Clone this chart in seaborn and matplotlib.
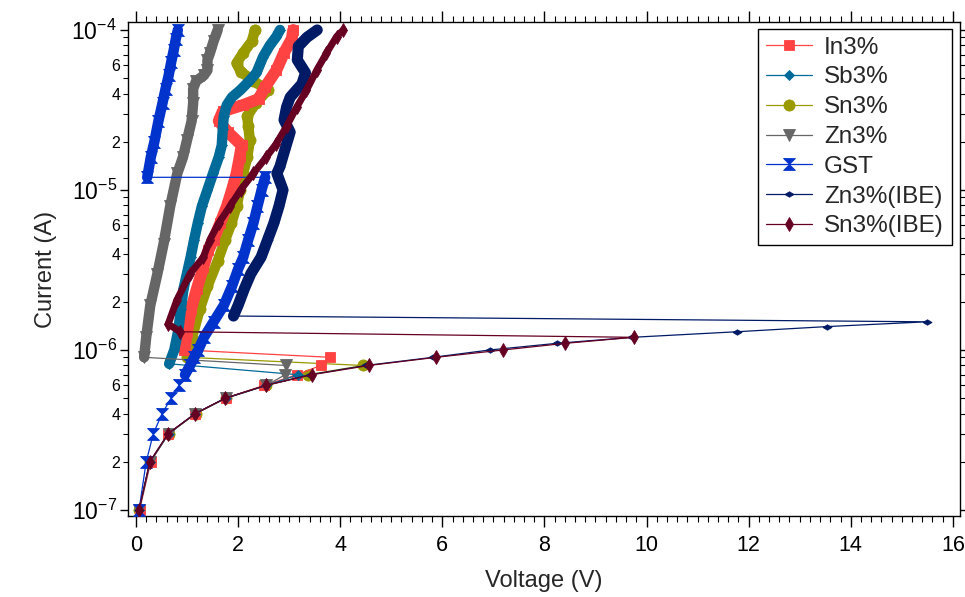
import numpy as np
import pandas as pd
import matplotlib
matplotlib.use("Agg")
import matplotlib.pyplot as plt
from matplotlib.ticker import FuncFormatter, LogLocator, MultipleLocator
import seaborn as sns

# ---------------------------------------------------------------- data
series_names = ["In3%", "Sb3%", "Sn3%", "Zn3%", "GST", "Zn3%(IBE)", "Sn3%(IBE)"]

# In3%
in_v_off = [0.07, 0.29, 0.63, 1.16, 1.76, 2.50, 3.15, 3.62, 3.80]
in_i_off = [1e-7, 2e-7, 3e-7, 4e-7, 5e-7, 6e-7, 7e-7, 8e-7, 9e-7]
in_v_on = [0.95, 1.00, 1.08, 1.19, 1.32, 1.42, 1.52, 1.65, 1.78, 1.88, 1.97, 2.03,
           2.07, 1.80, 1.62, 1.70, 2.10, 2.40, 2.53, 2.75, 2.90, 3.05, 3.08]
in_i_on = [1.0e-6, 1.3e-6, 1.8e-6, 2.4e-6, 3.3e-6, 4.2e-6, 4.9e-6, 6.2e-6, 7.9e-6,
           1.0e-5, 1.27e-5, 1.6e-5, 1.9e-5, 2.3e-5, 2.7e-5, 3.1e-5, 3.4e-5, 3.7e-5,
           4.4e-5, 5.6e-5, 7.2e-5, 8.8e-5, 1.0e-4]

# Sb3%
sb_v_off = [0.06, 0.28, 0.64, 1.16, 1.76, 2.55, 3.18]
sb_i_off = [1e-7, 2e-7, 3e-7, 4e-7, 5e-7, 6e-7, 7e-7]
sb_v_on = [0.65, 0.75, 0.83, 0.88, 0.93, 1.07, 1.14, 1.21, 1.29, 1.40, 1.51, 1.62,
           1.68, 1.70, 1.72, 1.78, 1.88, 2.04, 2.22, 2.36, 2.49, 2.62, 2.75, 2.82]
sb_i_on = [8.2e-7, 1.0e-6, 1.33e-6, 1.8e-6, 2.4e-6, 3.8e-6, 4.9e-6, 6.2e-6, 7.9e-6,
           1.0e-5, 1.27e-5, 1.6e-5, 1.9e-5, 2.4e-5, 2.9e-5, 3.4e-5, 3.8e-5, 4.2e-5,
           4.8e-5, 5.4e-5, 6.8e-5, 8.0e-5, 9.1e-5, 1.0e-4]

# Sn3%
sn_v_off = [0.06, 0.28, 0.64, 1.17, 1.76, 2.55, 3.37, 4.45]
sn_i_off = [1e-7, 2e-7, 3e-7, 4e-7, 5e-7, 6e-7, 7e-7, 8e-7]
sn_v_on = [1.00, 1.10, 1.25, 1.40, 1.60, 1.75, 1.87, 1.97, 2.04, 2.10, 2.18, 2.23,
           2.20, 2.18, 2.35, 2.58, 2.30, 2.05, 1.97, 2.10, 2.27, 2.33]
sn_i_on = [9e-7, 1.2e-6, 1.8e-6, 2.5e-6, 3.6e-6, 4.9e-6, 6.2e-6, 7.9e-6, 1.0e-5,
           1.27e-5, 1.6e-5, 2.05e-5, 2.5e-5, 2.9e-5, 3.5e-5, 4.2e-5, 4.8e-5, 5.5e-5,
           6.2e-5, 7.2e-5, 8.5e-5, 1.0e-4]

# Zn3%
zn_v_off = [0.06, 0.28, 0.64, 1.16, 1.76, 2.55, 2.92, 2.94]
zn_i_off = [1e-7, 2e-7, 3e-7, 4e-7, 5e-7, 6e-7, 7e-7, 8e-7]
zn_v_on = [0.16, 0.20, 0.28, 0.42, 0.54, 0.67, 0.81, 0.92, 1.00, 1.09, 1.12, 1.12,
           1.18, 1.33, 1.40, 1.40, 1.45, 1.52, 1.60]
zn_i_on = [9e-7, 1.2e-6, 1.9e-6, 3.0e-6, 4.6e-6, 7.9e-6, 1.27e-5, 1.6e-5, 2.05e-5,
           2.7e-5, 3.5e-5, 4.3e-5, 4.8e-5, 5.2e-5, 5.6e-5, 6.5e-5, 7.2e-5, 8.5e-5, 1.0e-4]

# GST
gst_v_off = [0.06, 0.20, 0.34, 0.51, 0.69, 0.84, 0.96, 1.06, 1.14, 1.22, 1.33, 1.52,
             1.72, 1.88, 2.00, 2.10, 2.20, 2.30, 2.38, 2.46, 2.53]
gst_i_off = [1e-7, 2e-7, 3e-7, 4e-7, 5e-7, 6e-7, 7e-7, 8e-7, 9e-7, 1e-6, 1.2e-6, 1.5e-6,
             1.9e-6, 2.5e-6, 3.2e-6, 3.8e-6, 4.9e-6, 6.2e-6, 7.9e-6, 1.0e-5, 1.2e-5]
gst_v_on = [0.22, 0.29, 0.36, 0.44, 0.52, 0.58, 0.64, 0.69, 0.74, 0.78, 0.82]
gst_i_on = [1.2e-5, 1.6e-5, 2.0e-5, 2.7e-5, 3.5e-5, 4.3e-5, 5.2e-5, 6.3e-5, 7.5e-5,
            8.8e-5, 1.0e-4]

# Zn3%(IBE)
znibe_v_off = [0.06, 0.27, 0.63, 1.16, 1.75, 2.54, 3.40, 4.50, 5.82, 6.93, 8.24, 9.72,
               11.77, 13.53, 15.49]
znibe_i_off = [1e-7, 2e-7, 3e-7, 4e-7, 5e-7, 6e-7, 7e-7, 8e-7, 9e-7, 1.0e-6, 1.1e-6,
               1.2e-6, 1.3e-6, 1.4e-6, 1.5e-6]
znibe_v_on = [1.91, 2.00, 2.12, 2.25, 2.45, 2.58, 2.70, 2.80, 2.88, 2.76, 2.82, 2.92,
              3.02, 2.90, 2.95, 3.02, 3.25, 3.32, 3.16, 3.18, 3.35, 3.55]
znibe_i_on = [1.63e-6, 1.9e-6, 2.4e-6, 3.0e-6, 3.8e-6, 4.9e-6, 6.2e-6, 7.9e-6, 1.0e-5,
              1.27e-5, 1.4e-5, 1.8e-5, 2.3e-5, 2.74e-5, 3.3e-5, 3.8e-5, 4.6e-5, 5.4e-5,
              6.5e-5, 7.9e-5, 9.0e-5, 1.0e-4]

# Sn3%(IBE)
snibe_v_off = [0.06, 0.27, 0.63, 1.16, 1.75, 2.54, 3.44, 4.56, 5.88, 7.19, 8.40, 9.75]
snibe_i_off = [1e-7, 2e-7, 3e-7, 4e-7, 5e-7, 6e-7, 7e-7, 8e-7, 9e-7, 1.0e-6, 1.1e-6, 1.2e-6]
snibe_v_on = [0.87, 0.63, 0.80, 1.06, 1.32, 1.45, 1.62, 1.84, 2.05, 2.30, 2.55, 2.75,
              2.95, 3.15, 3.34, 3.54, 3.73, 3.93, 4.06]
snibe_i_on = [1.3e-6, 1.45e-6, 2.05e-6, 3.0e-6, 3.8e-6, 4.9e-6, 6.2e-6, 7.9e-6, 1.0e-5,
              1.27e-5, 1.6e-5, 1.95e-5, 2.5e-5, 3.3e-5, 4.2e-5, 5.6e-5, 7.15e-5, 9.1e-5, 1.0e-4]

x_ticks = [0, 2, 4, 6, 8, 10, 12, 14, 16]

# ---------------------------------------------------------------- style
sns.set_theme(style="ticks")
plt.rcParams["font.family"] = ["Liberation Sans", "DejaVu Sans"]
plt.rcParams["mathtext.fontset"] = "custom"
plt.rcParams["mathtext.rm"] = "Liberation Sans"
plt.rcParams["mathtext.it"] = "Liberation Sans:italic"
plt.rcParams["mathtext.bf"] = "Liberation Sans:bold"
plt.rcParams["axes.edgecolor"] = "black"
plt.rcParams["axes.linewidth"] = 1.0

hourglass = [(-1, 1), (1, 1), (-1, -1), (1, -1), (-1, 1)]
flat_diamond = [(-1, 0), (0, 0.6), (1, 0), (0, -0.6), (-1, 0)]

curves = {
    "In3%": (in_v_off, in_i_off, in_v_on, in_i_on),
    "Sb3%": (sb_v_off, sb_i_off, sb_v_on, sb_i_on),
    "Sn3%": (sn_v_off, sn_i_off, sn_v_on, sn_i_on),
    "Zn3%": (zn_v_off, zn_i_off, zn_v_on, zn_i_on),
    "GST": (gst_v_off, gst_i_off, gst_v_on, gst_i_on),
    "Zn3%(IBE)": (znibe_v_off, znibe_i_off, znibe_v_on, znibe_i_on),
    "Sn3%(IBE)": (snibe_v_off, snibe_i_off, snibe_v_on, snibe_i_on),
}
style = {
    #  name        colour     marker        size  band width  zorder
    "In3%":      ("#FF4242", "s",          7.5,  8.5,        3),
    "Sb3%":      ("#006A99", "D",          5.5,  7.5,        4),
    "Sn3%":      ("#999900", "o",          8.0,  7.5,        2),
    "Zn3%":      ("#666666", "v",          9.0,  7.5,        5),
    "GST":       ("#0033CC", hourglass,    8.5,  7.5,        6),
    "Zn3%(IBE)": ("#001A66", flat_diamond, 6.5,  8.0,        7),
    "Sn3%(IBE)": ("#660022", "d",          7.5,  5.0,        8),
}

fig = plt.figure(figsize=(9.65, 5.97), dpi=100)
ax = fig.add_axes([0.1326, 0.1357, 0.8622, 0.8275])
ax.set_yscale("log")

for name in series_names:
    v_off, i_off, v_on, i_on = curves[name]
    colour, mk, ms, band_lw, z = style[name]

    # dense high-current sweep drawn as a solid band
    if name == "GST":
        band = pd.DataFrame({"V": v_off[6:], "I": i_off[6:]})
        sns.lineplot(data=band, x="V", y="I", sort=False, estimator=None, ax=ax,
                     color=colour, lw=band_lw, solid_capstyle="round",
                     solid_joinstyle="round", zorder=z, legend=False)
    band = pd.DataFrame({"V": v_on, "I": i_on})
    sns.lineplot(data=band, x="V", y="I", sort=False, estimator=None, ax=ax,
                 color=colour, lw=band_lw, solid_capstyle="round",
                 solid_joinstyle="round", zorder=z, legend=False)

    # full sweep: off state, snap-back and on state
    path = pd.DataFrame({"V": v_off + v_on, "I": i_off + i_on})
    sns.lineplot(data=path, x="V", y="I", sort=False, estimator=None, ax=ax,
                 color=colour, lw=0.9, marker=mk, markersize=ms,
                 markeredgecolor=colour, markeredgewidth=0.6,
                 zorder=z + 0.5, label=name)

# ---------------------------------------------------------------- axes
ax.set_xlim(-0.157, 16.14)
ax.set_ylim(10 ** -7.0375, 10 ** -3.95)
ax.set_xticks(x_ticks)
ax.xaxis.set_minor_locator(MultipleLocator(0.2))
ax.yaxis.set_major_locator(LogLocator(base=10, numticks=10))
ax.yaxis.set_minor_locator(LogLocator(base=10, subs=np.arange(2, 10), numticks=40))


def major_fmt(y, _pos):
    return r"$10^{%d}$" % int(round(np.log10(y)))


def minor_fmt(y, _pos):
    mant = y / 10 ** np.floor(np.log10(y) + 1e-9)
    m = int(round(mant))
    return str(m) if m in (2, 4, 6) and abs(mant - m) < 1e-6 else ""


ax.yaxis.set_major_formatter(FuncFormatter(major_fmt))
ax.yaxis.set_minor_formatter(FuncFormatter(minor_fmt))

ax.tick_params(axis="both", which="both", direction="out", top=True, right=True,
               labeltop=False, labelright=False, colors="black")
ax.tick_params(axis="x", which="major", length=8, width=1.0, labelsize=15.5, pad=6)
ax.tick_params(axis="x", which="minor", length=4.5, width=0.8)
ax.tick_params(axis="y", which="major", length=6, width=1.0, labelsize=16.5, pad=2)
ax.tick_params(axis="y", which="minor", length=3.5, width=0.8, labelsize=11.5, pad=2)

ax.set_xlabel("Voltage (V)", fontsize=17, labelpad=10)
ax.set_ylabel("Current (A)", fontsize=17, labelpad=10)

for side in ["left", "right", "top", "bottom"]:
    ax.spines[side].set_visible(True)
    ax.spines[side].set_color("black")

handles, labels = ax.get_legend_handles_labels()
lookup = dict(zip(labels, handles))
leg = ax.legend([lookup[n] for n in series_names], series_names, loc="upper right",
                bbox_to_anchor=(0.99, 0.986), fontsize=17.5, frameon=True,
                fancybox=False, edgecolor="black", framealpha=1, handlelength=1.9,
                handletextpad=0.5, labelspacing=0.32, borderpad=0.32,
                borderaxespad=0)
leg.get_frame().set_linewidth(1.0)

fig.savefig("out.png", dpi=100, facecolor="white")
